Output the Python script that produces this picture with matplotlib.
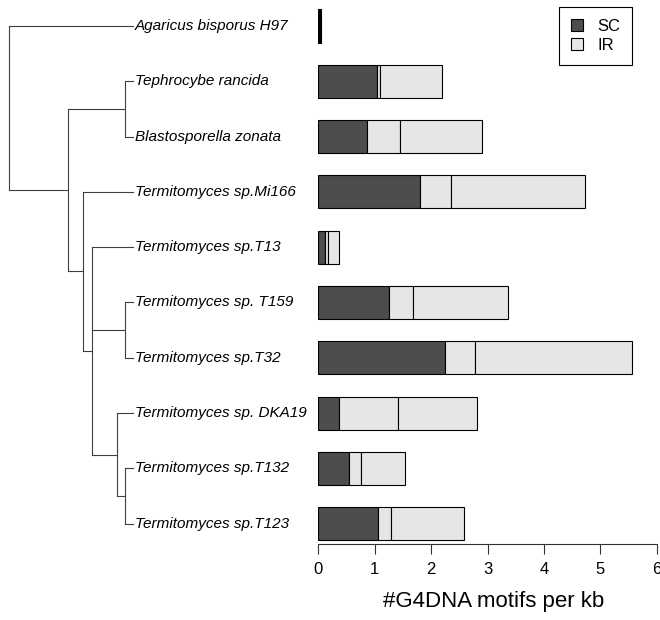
import matplotlib.pyplot as plt
from matplotlib.patches import Patch

plt.rcParams['font.family'] = ['Liberation Sans', 'DejaVu Sans']

species = ["Agaricus bisporus H97", "Tephrocybe rancida", "Blastosporella zonata",
           "Termitomyces sp.Mi166", "Termitomyces sp.T13", "Termitomyces sp. T159",
           "Termitomyces sp.T32", "Termitomyces sp. DKA19", "Termitomyces sp.T132",
           "Termitomyces sp.T123"]
# motifs per kb; the IR part is split in two segments in the original
sc = [0.02, 1.04, 0.86, 1.80, 0.12, 1.25, 2.25, 0.36, 0.55, 1.05]
ir_a = [0.01, 0.06, 0.58, 0.56, 0.05, 0.43, 0.53, 1.05, 0.21, 0.24]
ir_b = [0.01, 1.09, 1.46, 2.36, 0.19, 1.68, 2.79, 1.41, 0.77, 1.29]

# cladogram: (node depth, children), leaves are row indices, tips at depth 1
tree = (0.0, [0, (0.475, [(0.935, [1, 2]),
                          (0.598, [3, (0.666, [4, (0.935, [5, 6]),
                                               (0.868, [7, (0.935, [8, 9])])])])])])

dark = '#4d4d4d'
light = '#e6e6e6'
line_c = '#404040'

W, H = 660, 620
fig = plt.figure(figsize=(W / 100, H / 100), dpi=100)

ylim = (9.367, -0.47)
ax_t = fig.add_axes([0, 76 / H, 318 / W, 544 / H])
ax = fig.add_axes([318.3 / W, 76 / H, 338.4 / W, 544 / H])


def draw(node, x_parent=None):
    if isinstance(node, int):
        if x_parent is not None:
            ax_t.plot([x_parent, 1.0], [node, node], color=line_c, lw=0.8)
        return node
    x, kids = node
    ys = [draw(k, x) for k in kids]
    ax_t.plot([x, x], [min(ys), max(ys)], color=line_c, lw=0.8)
    y = (min(ys) + max(ys)) / 2
    if x_parent is not None:
        ax_t.plot([x_parent, x], [y, y], color=line_c, lw=0.8)
    return y


draw(tree)
for i, name in enumerate(species):
    ax_t.text(1.016, i, name, style='italic', fontsize=11, ha='left', va='center')
ax_t.set_xlim(-9.3 / 123.7, (318 - 9.3) / 123.7)
ax_t.set_ylim(*ylim)
ax_t.axis('off')

rows = range(len(species))
left_b = [a + b for a, b in zip(sc, ir_a)]
ax.barh(rows, sc, height=0.6, color=dark, edgecolor='black', lw=0.8)
ax.barh(rows, ir_a, left=sc, height=0.6, color=light, edgecolor='black', lw=0.8)
ax.barh(rows, ir_b, left=left_b, height=0.6, color=light, edgecolor='black', lw=0.8)

ax.set_xlim(0, 6)
ax.set_ylim(*ylim)
for s in ['top', 'right', 'left']:
    ax.spines[s].set_visible(False)
ax.spines['bottom'].set_color('#333333')
ax.spines['bottom'].set_linewidth(0.8)
ax.set_yticks([])
ax.set_xticks(range(7))
ax.tick_params(axis='x', length=7.2, width=0.8, color='#333333', labelsize=12, pad=6)
ax.patch.set_visible(False)

fig.text(494 / W, 1 - 601.7 / H, "#G4DNA motifs per kb", fontsize=16,
         ha='center', va='center')

handles = [Patch(facecolor=dark, edgecolor='black', lw=0.8, label='SC'),
           Patch(facecolor=light, edgecolor='black', lw=0.8, label='IR')]
leg = ax.legend(handles=handles, loc='upper right',
                bbox_to_anchor=(632.3 / W, 1 - 7.3 / H), bbox_transform=fig.transFigure,
                borderaxespad=0, fancybox=False, edgecolor='black', framealpha=1,
                fontsize=12, handlelength=0.7, handleheight=0.7, borderpad=0.7,
                labelspacing=0.25, handletextpad=0.9)
leg.get_frame().set_linewidth(0.8)

fig.savefig('out.png', dpi=100)
